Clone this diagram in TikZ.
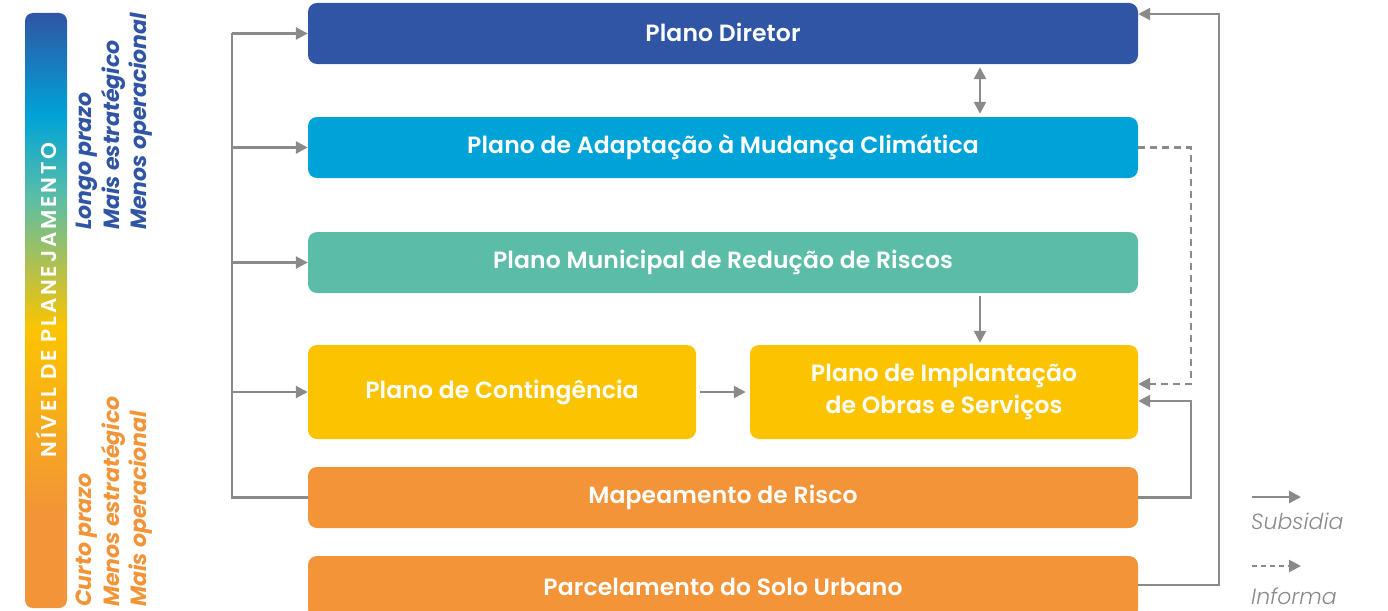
\documentclass[tikz,border=0pt]{standalone}
\usepackage{fontspec}
\setmainfont{Poppins}
\newfontfamily\boxfont{Poppins}[UprightFont=* SemiBold, LetterSpace=0.5]
\newfontfamily\nivelfont{Poppins}[UprightFont=* SemiBold, LetterSpace=13]
\newfontfamily\legfont{Poppins}[UprightFont=* Light, ItalicFont=* Light Italic]
\usetikzlibrary{arrows.meta,calc}
\definecolor{blueC}{HTML}{2F55A4}
\definecolor{cyanC}{HTML}{00A3D7}
\definecolor{tealC}{HTML}{5BBDA7}
\definecolor{yellowC}{HTML}{FCC400}
\definecolor{orangeC}{HTML}{F29437}
\definecolor{grayC}{HTML}{8A8A8A}
\pgfdeclareverticalshading{planbar}{100bp}{color(0bp)=(orangeC); color(33bp)=(orangeC); color(48.5bp)=(yellowC); color(59.5bp)=(tealC); color(66.4bp)=(cyanC); color(75bp)=(blueC); color(100bp)=(blueC)}
\tikzset{
  box/.style={rounded corners=9pt, text=white, font=\boxfont\fontsize{23.5}{31.5}\selectfont, align=center, inner sep=0pt, minimum width=830pt, minimum height=61pt},
  halfbox/.style={box, minimum width=388pt, minimum height=94pt},
  conn/.style={draw=grayC, line width=2.6pt},
  arr/.style={conn, -{Triangle[length=12pt,width=12pt]}},
  darr/.style={conn, {Triangle[length=12pt,width=12pt]}-{Triangle[length=12pt,width=12pt]}},
  dashline/.style={conn, dash pattern=on 7pt off 5pt},
  sidetext/.style={rotate=90, anchor=north west, align=left, inner sep=0pt, font=\fontsize{22}{27.5}\selectfont\bfseries\itshape},
  legtext/.style={anchor=west, inner sep=0pt, text=grayC, font=\legfont\fontsize{22}{24}\selectfont\itshape}
}
\begin{document}
\begin{tikzpicture}[x=1pt,y=-1pt]
\useasboundingbox (0,0) rectangle (1388,610);
\clip (0,0) rectangle (1388,610);
% planning bar
\shade[shading=planbar, rounded corners=8pt] (25,13) rectangle (67,608);
\node[rotate=90, text=white, inner sep=0pt, font=\nivelfont\fontsize{21.5}{24}\selectfont] (nivel) at (46,300) {NÍVEL DE PLANEJAMENTO};
\node[sidetext, text=blueC] (longo) at (76,230) {Longo prazo\\Mais estratégico\\Menos operacional};
\node[sidetext, text=orangeC] (curto) at (76,607) {Curto prazo\\Menos estratégico\\Mais operacional};
% boxes
\node[box, fill=blueC] (PD) at (723,33.5) {\raisebox{1.5pt}{Plano Diretor}};
\node[box, fill=cyanC] (PA) at (723,147.5) {Plano de Adaptação à Mudança Climática};
\node[box, fill=tealC] (PM) at (723,262.5) {Plano Municipal de Redução de Riscos};
\node[halfbox, fill=yellowC] (PC) at (502,392) {Plano de Contingência};
\node[halfbox, fill=yellowC] (PI) at (944,392) {Plano de Implantação\\de Obras e Serviços};
\node[box, fill=orangeC] (MR) at (723,497.5) {Mapeamento de Risco};
\node[box, fill=orangeC, minimum height=62pt] (PS) at (723,587) {Parcelamento do Solo Urbano};
% left trunk
\coordinate (tb) at (232,497.5);
\draw[conn] (MR.west) -- (tb) -- (tb |- PD.west);
\draw[arr] (tb |- PD.west) -- (PD.west);
\draw[arr] (tb |- PA.west) -- (PA.west);
\draw[arr] (tb |- PM.west) -- (PM.west);
\draw[arr] (tb |- PC.west) -- (PC.west);
% vertical links
\draw[darr, shorten <=3pt, shorten >=3pt] ([xshift=257pt]PD.south) -- ([xshift=257pt]PA.north);
\draw[arr, shorten <=3pt, shorten >=2pt] ([xshift=257pt]PM.south) -- ([xshift=36pt]PI.north);
\draw[arr, shorten <=4pt, shorten >=4pt] (PC.east) -- (PI.west);
% right links
\coordinate (rd) at (1191,147.5);
\draw[dashline, -{Triangle[length=12pt,width=12pt]}] (PA.east) -- (rd) |- ([yshift=8pt]PI.east);
\coordinate (rs) at (1191,497.5);
\draw[arr] (MR.east) -- (rs) |- ([yshift=-9pt]PI.east);
\coordinate (rb) at (1219,585);
\draw[arr] ([yshift=2pt]PS.east) -- (rb) |- ([yshift=19.5pt]PD.east);
% legend
\coordinate (l1a) at (1252,497);
\coordinate (l1b) at (1301,497);
\draw[arr] (l1a) -- (l1b);
\node[legtext] (sub) at (1251,521) {Subsidia};
\coordinate (l2a) at (1252,566);
\coordinate (l2b) at (1301,566);
\draw[dashline, dash pattern=on 5pt off 4pt, -{Triangle[length=12pt,width=12pt]}] (l2a) -- (l2b);
\node[legtext] (inf) at (1251,596) {Informa};
\end{tikzpicture}
\end{document}
